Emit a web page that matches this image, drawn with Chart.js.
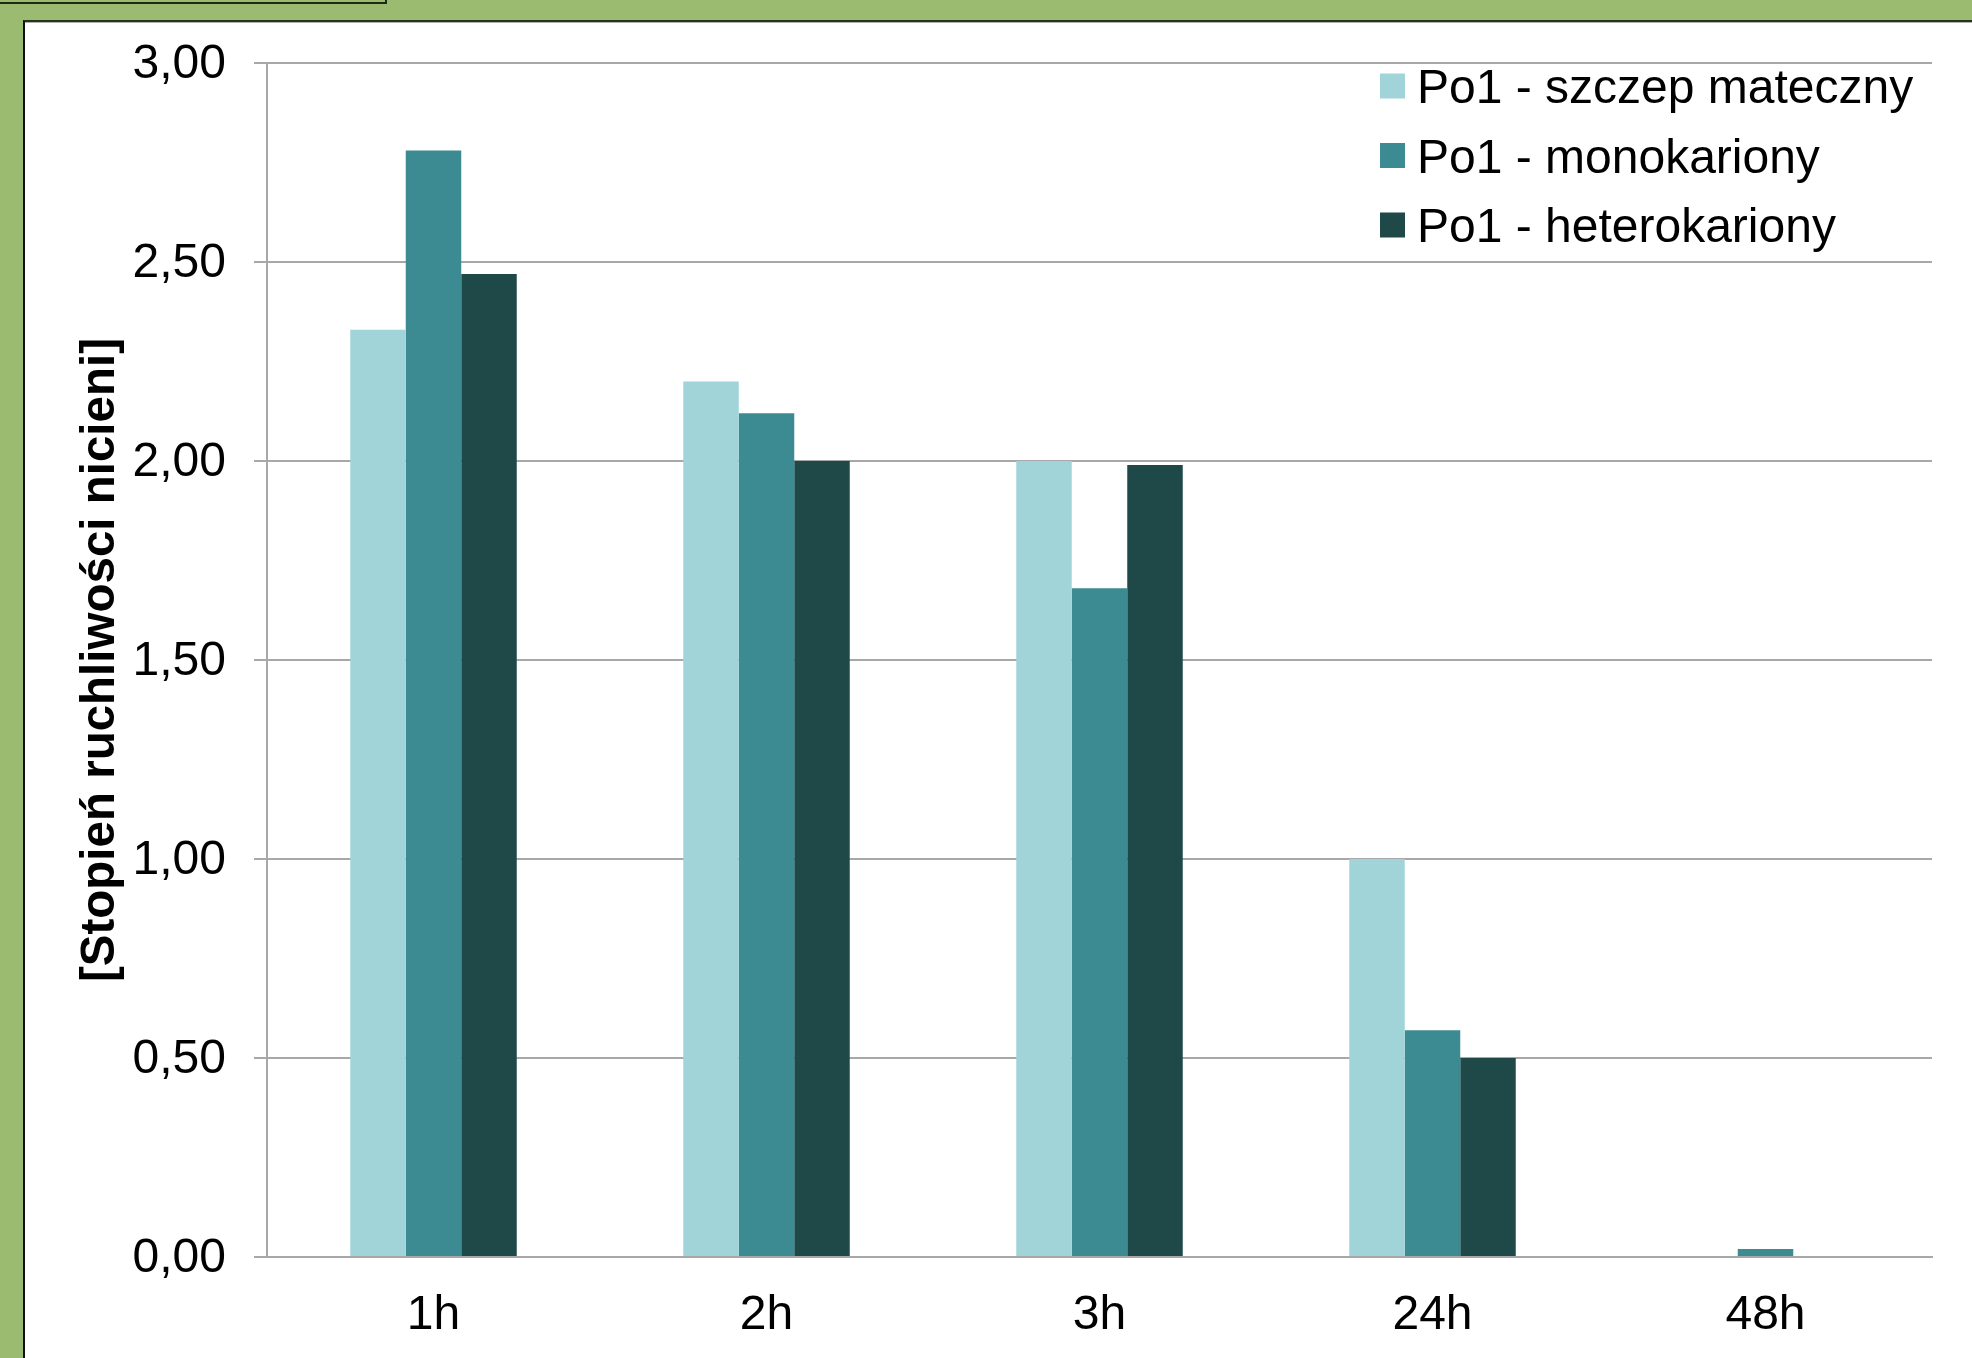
<!DOCTYPE html>
<html lang="pl">
<head>
<meta charset="utf-8">
<title>Stopień ruchliwości nicieni</title>
<script src="https://cdn.jsdelivr.net/npm/chart.js@4.4.1/dist/chart.umd.min.js"></script>
<style>
  html, body { margin: 0; padding: 0; width: 1972px; height: 1358px; overflow: hidden; background: #9bbb70; }
  #tab { position: absolute; left: -3px; top: -40px; width: 386px; height: 40px; border: 2px solid #1e2a12; background: #9bbb70; }
  #panel { position: absolute; left: 23px; top: 20px; right: 0; bottom: 0; background: #ffffff;
           border-left: 2px solid #111; border-top: 2px solid #26331a; box-shadow: inset 0 1px 0 #b0b0b0; }
  #chart { position: absolute; left: 0; top: 0; }
</style>
</head>
<body>
<div id="tab"></div>
<div id="panel"></div>
<canvas id="chart" width="1972" height="1358"></canvas>
<script>
// Czas od rozpoczęcia pomiaru
const categories = ['1h', '2h', '3h', '24h', '48h'];

// Stopień ruchliwości nicieni dla poszczególnych szczepów
const szczepMateczny = [2.33, 2.20, 2.00, 1.00, 0.00];
const monokariony    = [2.78, 2.12, 1.68, 0.57, 0.02];
const heterokariony  = [2.47, 2.00, 1.99, 0.50, 0.00];

const seriesNames = ['Po1 - szczep mateczny', 'Po1 - monokariony', 'Po1 - heterokariony'];
const yTickLabels = ['0,00', '0,50', '1,00', '1,50', '2,00', '2,50', '3,00'];

const colors = ['#a0d4d9', '#3d8b92', '#1f4849'];
const FONT = "'Liberation Sans', Arial, sans-serif";
const GRID = '#a8a8a8';

// Legenda rysowana w prawym górnym rogu obszaru wykresu
const cornerLegend = {
  id: 'cornerLegend',
  afterDraw(chart, args, opts) {
    const ctx = chart.ctx;
    ctx.save();
    chart.data.datasets.forEach((ds, i) => {
      const cy = opts.top + i * opts.rowGap;
      ctx.fillStyle = ds.backgroundColor;
      ctx.fillRect(opts.left, cy - opts.box / 2, opts.box, opts.box);
      ctx.fillStyle = '#000';
      ctx.font = opts.fontSize + 'px ' + FONT;
      ctx.textBaseline = 'alphabetic';
      ctx.textAlign = 'left';
      ctx.fillText(ds.label, opts.left + opts.box + opts.gap, cy + opts.baseline);
    });
    ctx.restore();
  }
};

new Chart(document.getElementById('chart'), {
  type: 'bar',
  data: {
    labels: categories,
    datasets: [
      { label: seriesNames[0], data: szczepMateczny, backgroundColor: colors[0] },
      { label: seriesNames[1], data: monokariony,    backgroundColor: colors[1] },
      { label: seriesNames[2], data: heterokariony,  backgroundColor: colors[2] }
    ]
  },
  plugins: [cornerLegend],
  options: {
    responsive: false,
    devicePixelRatio: 1,
    animation: false,
    layout: { padding: { left: 25, right: 40, top: 63, bottom: 21 } },
    datasets: { bar: { categoryPercentage: 0.5, barPercentage: 1.0, borderWidth: 0 } },
    plugins: {
      legend: { display: false },
      tooltip: { enabled: false },
      cornerLegend: { left: 1380, top: 86, rowGap: 69.5, box: 25, gap: 12, baseline: 17, fontSize: 48 }
    },
    scales: {
      x: {
        grid: { display: false, drawTicks: false },
        border: { display: true, color: GRID, width: 2 },
        ticks: { color: '#000', font: { family: FONT, size: 48 }, padding: 30 },
        afterFit(scale) { scale.height = 80; }
      },
      y: {
        min: 0,
        max: 3,
        ticks: {
          stepSize: 0.5,
          color: '#000',
          font: { family: FONT, size: 48 },
          padding: 28,
          labelOffset: 2,
          callback: (value, index) => yTickLabels[index]
        },
        grid: { color: GRID, lineWidth: 2, tickLength: 13, drawTicks: true },
        border: { display: true, color: GRID, width: 2 },
        title: {
          display: true,
          text: '[Stopień ruchliwości nicieni]',
          color: '#000',
          font: { family: FONT, size: 47.5, weight: 'bold' },
          padding: { top: 47, bottom: 0 }
        },
        afterFit(scale) { scale.width = 242; }
      }
    }
  }
});
</script>
</body>
</html>
